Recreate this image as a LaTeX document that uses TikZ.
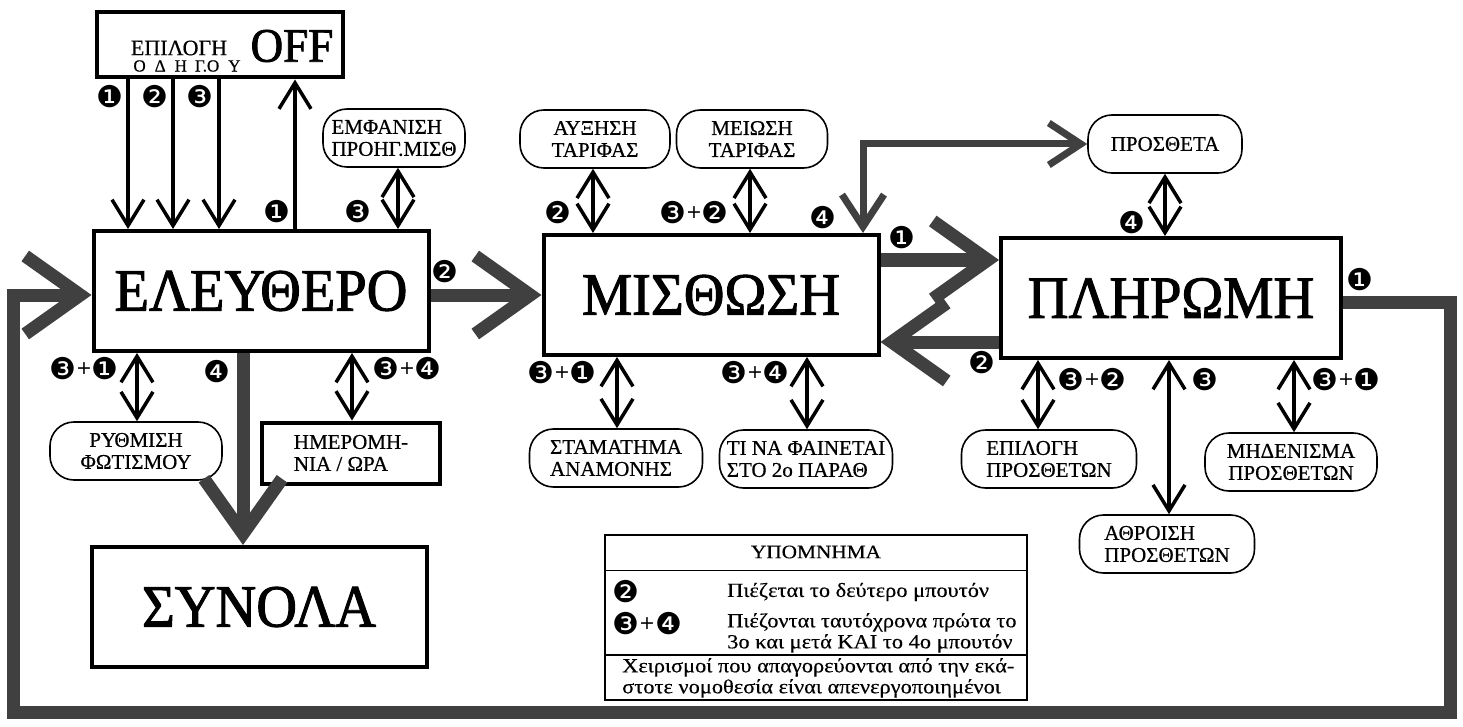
\documentclass[tikz,border=0pt]{standalone}
\usepackage{fontspec}
\setmainfont{Liberation Serif}[FakeBold=0.6]
\newfontfamily\titlefont[FakeStretch=0.94, FakeBold=1.6]{Liberation Serif}
\newfontfamily\legfont[FakeStretch=1.12, FakeBold=0.4]{Liberation Serif}
\newfontfamily\btnfont{DejaVu Sans}
\newcommand\btnplus{\raisebox{5pt}{\fontsize{19}{19}\selectfont+}}
\usetikzlibrary{arrows.meta, positioning}

\begin{document}
\begin{tikzpicture}[
    x=1pt, y=-1pt,
    bigbox/.style={rectangle, draw, line width=4pt, minimum width=335pt, minimum height=120pt, font=\titlefont\fontsize{60}{60}\selectfont},
    pill/.style={rectangle, draw, line width=1.6pt, rounded corners=24pt, minimum height=58pt, inner xsep=4pt, align=center, font=\fontsize{21}{22}\selectfont},
    btn/.style={inner sep=0pt, font=\btnfont\fontsize{30}{30}\selectfont},
    legtext/.style={inner sep=0pt, align=left, font=\legfont\fontsize{20}{21}\selectfont},
    onearrow/.style={draw, line width=3.5pt, -{Straight Barb[length=26pt, width=32pt]}},
    twoarrow/.style={draw, line width=3.5pt, {Straight Barb[length=26pt, width=32pt]}-{Straight Barb[length=26pt, width=32pt]}},
    midarrow/.style={draw=black!75, line width=7pt, line join=miter, {Straight Barb[length=32pt, width=42pt]}-{Straight Barb[length=32pt, width=42pt]}},
    fatarrow/.style={draw=black!75, line width=13pt, line join=miter, -{Straight Barb[length=55pt, width=78pt]}}
]
    \useasboundingbox (0,0) rectangle (1463,727);

    % main states
    \node [bigbox] (free) at (261,291) {ΕΛΕΥΘΕΡΟ};
    \node [bigbox] (lease) at (711,295) {ΜΙΣΘΩΣΗ};
    \node [bigbox, minimum width=340pt] (pay) at (1171,298) {ΠΛΗΡΩΜΗ};
    \node [bigbox] (totals) at (259,607) {ΣΥΝΟΛΑ};

    % OFF box
    \node [rectangle, draw, line width=4pt, minimum width=246pt, minimum height=65pt] (off) at (220,45) {};
    \node [font=\fontsize{22}{22}\selectfont] (offsel) at (179,48) {ΕΠΙΛΟΓΗ};
    \node [font=\fontsize{17}{17}\selectfont] (offdrv) at (187,66) {Ο\kern9pt Δ\kern9pt Η\kern8pt Γ.Ο\kern9pt Υ};
    \node [font=\titlefont\fontsize{48}{48}\selectfont] (offoff) at (292,46) {OFF};

    % functions
    \node [pill, minimum width=142pt, align=left] (prevfare) at (394,138) {ΕΜΦΑΝΙΣΗ\\ΠΡΟΗΓ.ΜΙΣΘ};
    \node [pill, minimum width=150pt] (fareup) at (595,139) {ΑΥΞΗΣΗ\\ΤΑΡΙΦΑΣ};
    \node [pill, minimum width=151pt] (faredown) at (752,139) {ΜΕΙΩΣΗ\\ΤΑΡΙΦΑΣ};
    \node [pill, minimum width=154pt] (extras) at (1165,144) {ΠΡΟΣΘΕΤΑ};
    \node [pill, minimum width=172pt] (light) at (136,451) {ΡΥΘΜΙΣΗ\\ΦΩΤΙΣΜΟΥ};
    \node [rectangle, draw, line width=4pt, minimum width=178pt, minimum height=61pt, align=left, font=\fontsize{21}{22}\selectfont] (datetime) at (351,453) {ΗΜΕΡΟΜΗ-\\ΝΙΑ / ΩΡΑ};
    \node [pill, minimum width=173pt, align=left] (stopwait) at (616,458) {ΣΤΑΜΑΤΗΜΑ\\ΑΝΑΜΟΝΗΣ};
    \node [pill, minimum width=173pt, align=left] (display2) at (806,459) {ΤΙ ΝΑ ΦΑΙΝΕΤΑΙ\\ΣΤΟ 2ο ΠΑΡΑΘ};
    \node [pill, minimum width=175pt, align=left] (selextras) at (1049,459) {ΕΠΙΛΟΓΗ\\ΠΡΟΣΘΕΤΩΝ};
    \node [pill, minimum width=175pt, align=left] (sumextras) at (1167,544) {ΑΘΡΟΙΣΗ\\ΠΡΟΣΘΕΤΩΝ};
    \node [pill, minimum width=172pt] (clrextras) at (1291,462) {ΜΗΔΕΝΙΣΜΑ\\ΠΡΟΣΘΕΤΩΝ};

    % thick transitions
    \coordinate (up1) at ([yshift=35pt]lease.east);
    \coordinate (dn1) at ([yshift=-44pt]pay.west);
    \coordinate (dn2) at ([xshift=-18pt]free.south);
    \coordinate (loopR) at (1450,712);
    \coordinate (loopL) at (13,712);
    \draw [fatarrow] (free.east |- lease.west) -- (lease.west);
    \draw [fatarrow] (up1) -- (up1 -| pay.west);
    \draw [fatarrow] (dn1) -- (dn1 -| lease.east);
    \draw [fatarrow] (dn2) -- (dn2 |- totals.north);
    \draw [fatarrow] ([yshift=-4pt]pay.east) -| (loopR) -- (loopL) |- ([yshift=-4pt]free.west);
    \draw [midarrow] (863,0 |- lease.north) |- (extras.west);

    % driver selection and OFF
    \draw [onearrow] (128,0 |- off.south) -- (128,0 |- free.north);
    \draw [onearrow] (173,0 |- off.south) -- (173,0 |- free.north);
    \draw [onearrow] (219,0 |- off.south) -- (219,0 |- free.north);
    \draw [onearrow] (295,0 |- free.north) -- (295,0 |- off.south);

    % function arrows
    \draw [twoarrow] (398,0 |- prevfare.south) -- (398,0 |- free.north);
    \draw [twoarrow] (593,0 |- fareup.south) -- (593,0 |- lease.north);
    \draw [twoarrow] (750,0 |- faredown.south) -- (750,0 |- lease.north);
    \draw [twoarrow] (1165,0 |- extras.south) -- (1165,0 |- pay.north);
    \draw [twoarrow] (137,0 |- free.south) -- (137,0 |- light.north);
    \draw [twoarrow] (352,0 |- free.south) -- (352,0 |- datetime.north);
    \draw [twoarrow] (617,0 |- lease.south) -- (617,0 |- stopwait.north);
    \draw [twoarrow] (807,0 |- lease.south) -- (807,0 |- display2.north);
    \draw [twoarrow] (1038,0 |- pay.south) -- (1038,0 |- selextras.north);
    \draw [twoarrow] (1169,0 |- pay.south) -- (1169,0 |- sumextras.north);
    \draw [twoarrow] (1294,0 |- pay.south) -- (1294,0 |- clrextras.north);

    % button labels
    \node [btn] (b1) at (110,97) {❶};
    \node [btn] (b2) at (155,97) {❷};
    \node [btn] (b3) at (200,97) {❸};
    \node [btn] (b4) at (277,212) {❶};
    \node [btn] (b5) at (358,212) {❸};
    \node [btn] (b6) at (445,272) {❷};
    \node [btn] (b7) at (558,213) {❷};
    \node [btn] (b8) at (694,213) {❸\btnplus❷};
    \node [btn] (b9) at (823,218) {❹};
    \node [btn] (b10) at (902,238) {❶};
    \node [btn] (b11) at (1132,223) {❹};
    \node [btn] (b12) at (1360,280) {❶};
    \node [btn] (b13) at (982,363) {❷};
    \node [btn] (b14) at (1092,380) {❸\btnplus❷};
    \node [btn] (b15) at (1205,380) {❸};
    \node [btn] (b16) at (1346,380) {❸\btnplus❶};
    \node [btn] (b17) at (84,369) {❸\btnplus❶};
    \node [btn] (b18) at (217,372) {❹};
    \node [btn] (b19) at (407,369) {❸\btnplus❹};
    \node [btn] (b20) at (562,373) {❸\btnplus❶};
    \node [btn] (b21) at (755,373) {❸\btnplus❹};

    % legend
    \node [rectangle, draw, line width=1.5pt, minimum width=422pt, minimum height=165pt] (legend) at (816,617.5) {};
    \draw [line width=1pt] (legend.west |- 0,570) -- (legend.east |- 0,570);
    \draw [line width=1.5pt] (legend.west |- 0,655) -- (legend.east |- 0,655);
    \node [font=\legfont\fontsize{19}{19}\selectfont] (legtitle) at (legend.center |- 0,552) {ΥΠΟΜΝΗΜΑ};
    \node [btn, anchor=west] (leg2) at (612,592) {❷};
    \node [legtext, anchor=west] (legtxt2) at (727,592) {Πιέζεται το δεύτερο μπουτόν};
    \node [btn, anchor=west] (leg34) at (612,624) {❸\btnplus❹};
    \node [legtext, anchor=north west] (legtxt34) at (727,613) {Πιέζονται ταυτόχρονα πρώτα το\\3ο και μετά ΚΑΙ το 4ο μπουτόν};
    \node [legtext, anchor=north west] (legnote) at (622,658) {Χειρισμοί που απαγορεύονται από την εκά-\\στοτε νομοθεσία είναι απενεργοποιημένοι};
\end{tikzpicture}
\end{document}
